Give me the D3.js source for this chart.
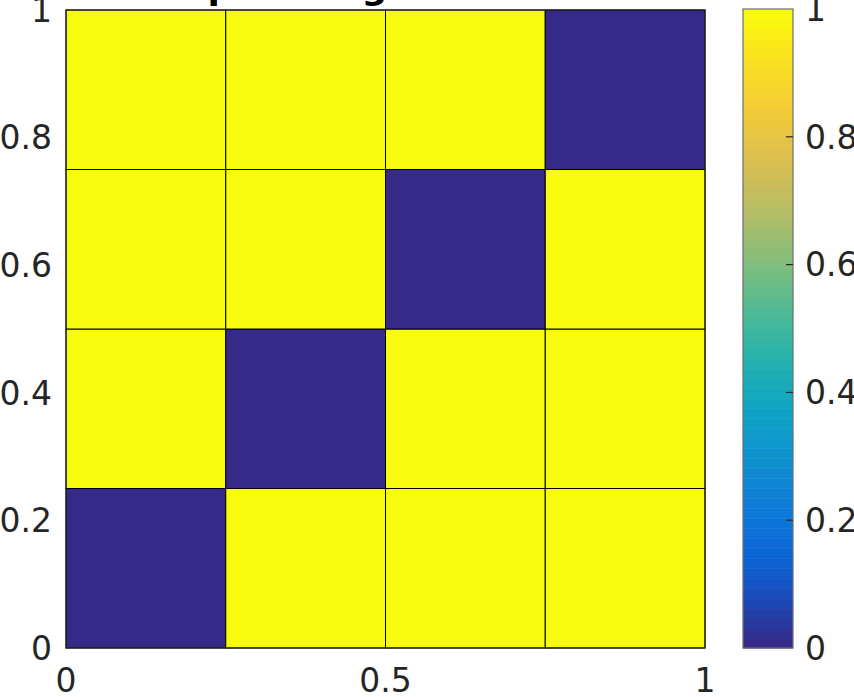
<!DOCTYPE html>
<html>
<head>
<meta charset="utf-8">
<script src="https://cdn.jsdelivr.net/npm/d3@7"></script>
<style>
  body { margin: 0; background: #fff; }
  svg { display: block; font-family: "DejaVu Sans", sans-serif; }
</style>
</head>
<body>
<script>
// cell edges (pcolor grid) and cell values, row 0 is the bottom row
const xEdges = [0, 0.25, 0.5, 0.75, 1];
const yEdges = [0, 0.25, 0.5, 0.75, 1];
const values = [
  [0, 1, 1, 1],
  [1, 0, 1, 1],
  [1, 1, 0, 1],
  [1, 1, 1, 0]
];
const xTicks = [0, 0.5, 1];
const yTicks = [0, 0.2, 0.4, 0.6, 0.8, 1];
const cbarTicks = [0, 0.2, 0.4, 0.6, 0.8, 1];
const titleText = "Inputs: logical matrix";

// parula-like colormap, 64 levels
const parulaStops = ["#352a87", "#0363e1", "#1485d4", "#06a7c6", "#38b99e",
                     "#92bf73", "#d9ba56", "#fcce2e", "#f9fb0e"];
const nLevels = 64;
const interp = d3.interpolateRgbBasis(parulaStops);
const levels = d3.range(nLevels).map(i => interp(i / (nLevels - 1)));
const color = v => levels[Math.min(nLevels - 1, Math.floor(v * nLevels))];

const W = 854, H = 697;
const plot = {left: 66, right: 705, top: 10, bottom: 648};
const cbar = {left: 743, right: 793, top: 9, bottom: 648};
const ink = "#262626";
const fontSize = 33;

const svg = d3.select("body")
  .append("svg")
  .attr("width", W)
  .attr("height", H);

const x = d3.scaleLinear().domain([0, 1]).range([plot.left, plot.right]);
const y = d3.scaleLinear().domain([0, 1]).range([plot.bottom, plot.top]);

// cells
const cells = [];
values.forEach((row, r) => row.forEach((v, c) => cells.push({r, c, v})));

svg.append("g")
  .selectAll("rect")
  .data(cells)
  .enter()
  .append("rect")
  .attr("x", d => x(xEdges[d.c]))
  .attr("y", d => y(yEdges[d.r + 1]))
  .attr("width", d => x(xEdges[d.c + 1]) - x(xEdges[d.c]))
  .attr("height", d => y(yEdges[d.r]) - y(yEdges[d.r + 1]))
  .attr("fill", d => color(d.v))
  .attr("stroke", "#000")
  .attr("stroke-width", 1);

// axes box
svg.append("rect")
  .attr("x", plot.left)
  .attr("y", plot.top)
  .attr("width", plot.right - plot.left)
  .attr("height", plot.bottom - plot.top)
  .attr("fill", "none")
  .attr("stroke", ink)
  .attr("stroke-width", 1.2);

// tick labels
svg.append("g")
  .selectAll("text")
  .data(yTicks)
  .enter()
  .append("text")
  .attr("x", plot.left - 14)
  .attr("y", d => y(d))
  .attr("dy", "0.36em")
  .attr("text-anchor", "end")
  .attr("font-size", fontSize)
  .attr("fill", ink)
  .text(d => d3.format("~g")(d));

svg.append("g")
  .selectAll("text")
  .data(xTicks)
  .enter()
  .append("text")
  .attr("x", d => x(d))
  .attr("y", 692)
  .attr("text-anchor", "middle")
  .attr("font-size", fontSize)
  .attr("fill", ink)
  .text(d => d3.format("~g")(d));

// title, mostly above the visible area
svg.append("text")
  .attr("x", (plot.left + plot.right) / 2)
  .attr("y", -1)
  .attr("text-anchor", "middle")
  .attr("font-size", 36)
  .attr("font-weight", "bold")
  .attr("fill", "#000")
  .text(titleText);

// colorbar
const cy = d3.scaleLinear().domain([0, 1]).range([cbar.bottom, cbar.top]);

svg.append("g")
  .selectAll("rect")
  .data(levels)
  .enter()
  .append("rect")
  .attr("x", cbar.left)
  .attr("y", (d, i) => cy((i + 1) / nLevels))
  .attr("width", cbar.right - cbar.left)
  .attr("height", (d, i) => cy(i / nLevels) - cy((i + 1) / nLevels) + 0.5)
  .attr("fill", d => d);

svg.append("rect")
  .attr("x", cbar.left)
  .attr("y", cbar.top)
  .attr("width", cbar.right - cbar.left)
  .attr("height", cbar.bottom - cbar.top)
  .attr("fill", "none")
  .attr("stroke", "#6e6e6e")
  .attr("stroke-width", 1.2);

const cticks = svg.append("g");
cticks.selectAll("line")
  .data(cbarTicks.filter(d => d > 0 && d < 1))
  .enter()
  .append("line")
  .attr("x1", cbar.right - 7)
  .attr("x2", cbar.right)
  .attr("y1", d => cy(d))
  .attr("y2", d => cy(d))
  .attr("stroke", ink)
  .attr("stroke-width", 1.2);

cticks.selectAll("text")
  .data(cbarTicks)
  .enter()
  .append("text")
  .attr("x", 805)
  .attr("y", d => cy(d))
  .attr("dy", "0.36em")
  .attr("font-size", fontSize)
  .attr("fill", ink)
  .text(d => d3.format("~g")(d));
</script>
</body>
</html>
